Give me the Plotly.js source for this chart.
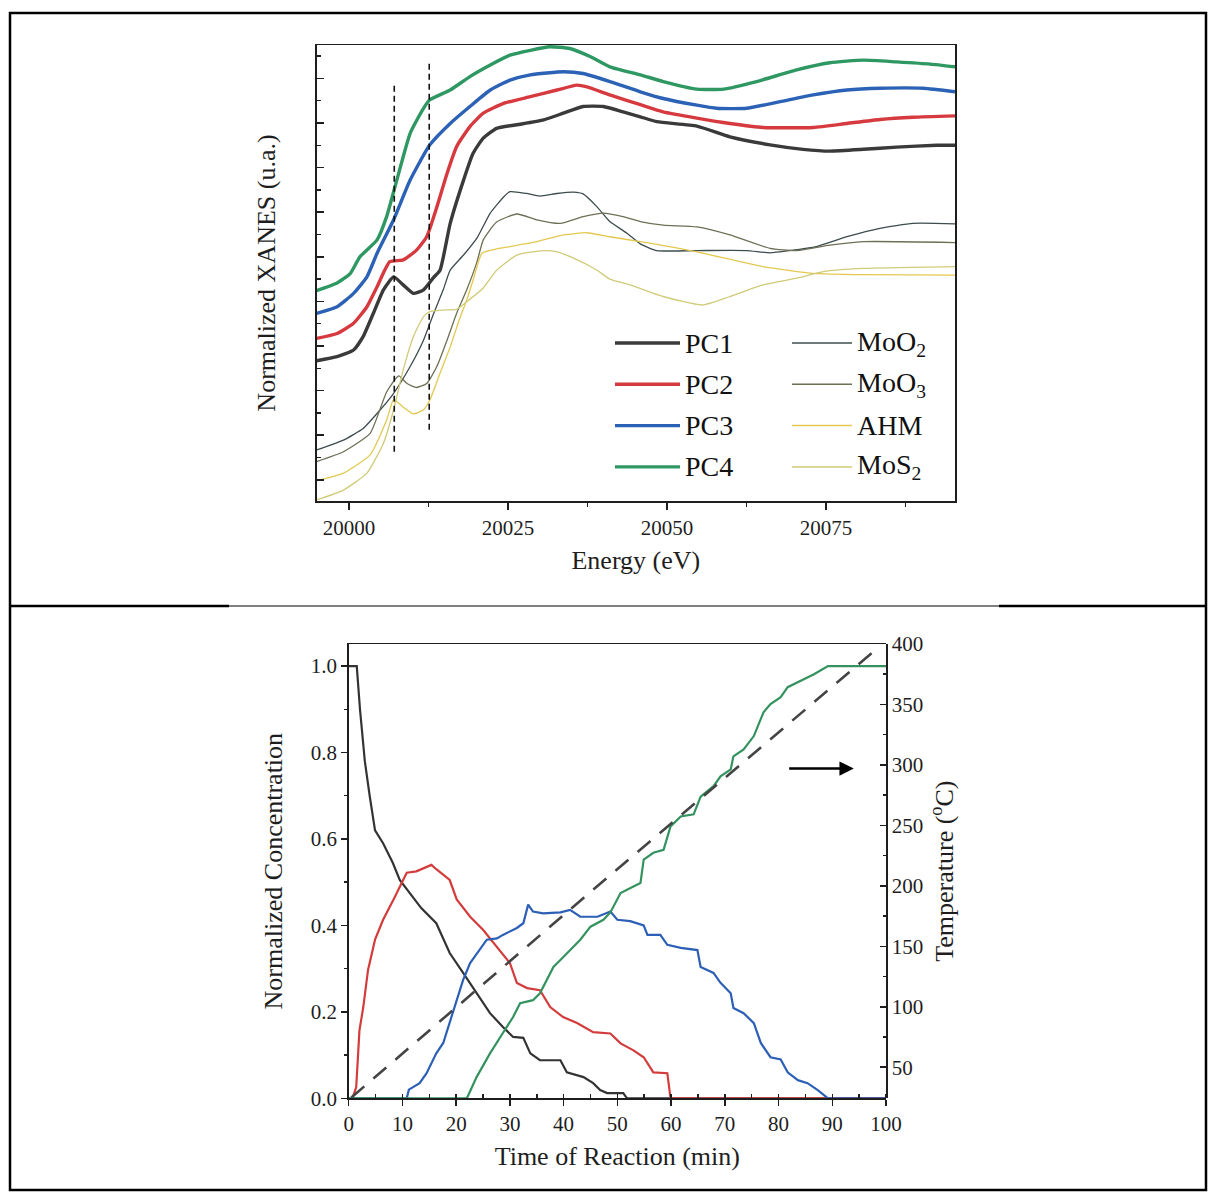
<!DOCTYPE html>
<html><head><meta charset="utf-8">
<script src="https://cdn.plot.ly/plotly-3.0.1.min.js"></script>
<style>html,body{margin:0;padding:0;background:#fff}#chart{width:1208px;height:1193px}</style>
</head><body><div id="chart"></div>
<script>
// ---------- Top panel: Mo K-edge XANES (offset, arbitrary units) ----------
const pc1E = [19994.9,19998.1,20000.7,20002.2,20003.8,20005.4,20007.0,20008.5,20010.1,20011.7,20013.3,20014.3,20015.9,20018.0,20019.5,20021.1,20023.2,20026.4,20030.6,20033.7,20036.8,20040.0,20043.1,20045.8,20048.4,20054.7,20059.9,20066.2,20071.4,20075.6,20080.9,20086.1,20092.4,20095.3];
const pc1Y = [2.67,2.76,2.91,3.21,3.73,4.26,4.55,4.37,4.18,4.26,4.54,4.70,5.75,6.72,7.32,7.66,7.88,7.96,8.07,8.22,8.37,8.37,8.25,8.14,8.03,7.93,7.69,7.51,7.41,7.37,7.41,7.46,7.50,7.50];
const pc2E = [19994.9,19998.1,20000.7,20002.8,20004.4,20006.4,20008.5,20010.6,20012.2,20013.8,20015.4,20016.9,20019.0,20021.1,20024.3,20028.5,20032.7,20035.8,20037.4,20041.0,20045.8,20049.4,20054.7,20059.9,20065.1,20073.0,20078.3,20083.5,20088.7,20095.3];
const pc2Y = [3.17,3.28,3.51,3.88,4.33,4.89,4.93,5.15,5.45,6.12,6.87,7.47,7.92,8.22,8.44,8.59,8.74,8.85,8.81,8.63,8.41,8.25,8.11,7.99,7.90,7.90,7.99,8.08,8.13,8.16];
const pc3E = [19994.9,19998.1,20000.7,20002.8,20004.4,20007.0,20009.6,20012.7,20015.9,20019.0,20022.2,20025.3,20028.5,20033.7,20036.8,20041.0,20045.8,20049.4,20054.7,20057.8,20062.5,20067.8,20073.0,20078.3,20083.5,20090.3,20095.3];
const pc3Y = [3.73,3.88,4.18,4.55,5.08,5.83,6.72,7.51,7.99,8.37,8.74,8.96,9.08,9.15,9.11,8.93,8.70,8.55,8.40,8.33,8.33,8.48,8.63,8.74,8.78,8.78,8.70];
const pc4E = [19994.9,19998.1,20000.2,20001.7,20004.4,20005.9,20007.5,20009.6,20011.7,20012.7,20015.9,20019.0,20022.2,20025.3,20028.5,20031.6,20034.7,20037.9,20041.0,20045.8,20049.4,20054.7,20058.9,20064.1,20070.4,20075.6,20080.9,20086.1,20091.4,20095.3];
const pc4Y = [4.24,4.41,4.63,5.00,5.38,5.90,6.72,7.77,8.33,8.52,8.74,9.04,9.30,9.52,9.63,9.71,9.67,9.49,9.26,9.08,8.93,8.76,8.76,8.93,9.19,9.35,9.41,9.37,9.32,9.26];
const moo2E = [19994.9,19999.1,20002.2,20004.9,20007.0,20009.6,20011.7,20013.3,20014.8,20015.9,20018.0,20020.1,20022.2,20024.3,20025.3,20027.9,20030.0,20032.7,20035.3,20036.8,20039.0,20041.0,20043.7,20045.8,20048.4,20054.7,20062.5,20066.2,20069.3,20073.5,20078.3,20083.5,20088.7,20095.3];
const moo2Y = [0.67,0.89,1.15,1.57,1.94,2.54,3.13,3.73,4.26,4.70,5.04,5.42,5.98,6.34,6.46,6.42,6.36,6.42,6.45,6.41,6.12,5.79,5.53,5.29,5.14,5.14,5.14,5.09,5.14,5.23,5.45,5.64,5.75,5.74];
const moo3E = [19994.9,19999.1,20003.3,20005.9,20007.8,20009.1,20010.6,20012.2,20013.8,20015.4,20016.9,20018.5,20020.1,20021.1,20023.2,20026.4,20029.5,20033.2,20036.8,20040.0,20043.1,20045.8,20049.4,20054.7,20059.9,20066.2,20070.4,20075.6,20080.9,20095.3];
const moo3Y = [0.41,0.63,1.04,1.97,2.33,2.16,2.07,2.16,2.54,3.13,3.73,4.26,4.88,5.38,5.78,5.96,5.83,5.75,5.90,5.98,5.90,5.79,5.71,5.67,5.49,5.19,5.14,5.26,5.34,5.32];
const ahmE = [19994.9,19999.1,20003.3,20005.9,20007.0,20008.5,20010.1,20011.7,20012.7,20014.3,20015.9,20017.5,20018.5,20019.5,20020.9,20023.0,20025.3,20029.5,20033.7,20037.4,20041.0,20045.8,20054.7,20065.1,20073.0,20080.9,20095.3];
const ahmY = [-0.02,0.15,0.56,1.34,1.80,1.63,1.48,1.57,1.79,2.39,2.98,3.66,4.03,4.48,5.08,5.17,5.23,5.34,5.49,5.54,5.45,5.34,5.11,4.78,4.63,4.60,4.59];
const mos2E = [19994.9,19999.1,20002.8,20005.4,20007.0,20008.5,20010.1,20011.7,20012.7,20015.4,20016.9,20018.5,20021.1,20023.2,20026.4,20030.6,20032.7,20035.3,20039.0,20041.0,20044.2,20049.4,20055.5,20059.9,20065.1,20070.4,20074.6,20080.9,20095.3];
const mos2Y = [-0.45,-0.23,0.15,0.82,1.57,2.46,3.21,3.66,3.77,3.81,3.82,3.99,4.30,4.70,5.04,5.14,5.11,4.97,4.70,4.50,4.37,4.11,3.92,4.11,4.37,4.52,4.67,4.74,4.78];
const guideE = [20007.1, 20012.6];
const guideYLow = [0.63, 1.12];
const guideYHigh = [8.89, 9.37];
const xanesTicks = [20000, 20025, 20050, 20075];

// ---------- Bottom panel: concentration profiles + temperature ----------
const c1T = [0,1.5,2.1,3.0,3.9,4.9,6.4,8.2,9.5,11.4,13.5,16.3,17.6,18.8,21.3,23.8,26.3,28.7,30.6,32.5,33.8,35.6,39.4,40.6,43.7,45.5,46.8,48.1,51.1,51.8,100];
const c1V = [1.0,1.0,0.9,0.78,0.70,0.62,0.59,0.545,0.505,0.475,0.44,0.405,0.367,0.336,0.29,0.243,0.197,0.165,0.142,0.14,0.104,0.088,0.088,0.06,0.049,0.035,0.019,0.012,0.012,0.0,0.0];
const c2T = [0,0.7,1.4,2.0,2.7,3.6,4.9,6.4,8.3,9.8,10.8,12.6,14.5,15.4,16.3,18.8,20.1,22.6,25.0,27.6,30.0,31.3,33.2,35.6,37.5,39.9,42.5,45.5,48.7,50.6,53.0,54.9,56.7,59.3,59.9,100];
const c2V = [0,0,0.026,0.157,0.21,0.297,0.367,0.413,0.459,0.498,0.522,0.525,0.534,0.54,0.53,0.505,0.46,0.42,0.39,0.35,0.313,0.267,0.255,0.25,0.211,0.188,0.174,0.153,0.15,0.127,0.111,0.095,0.06,0.058,0.0,0.0];
const c3T = [0,10.8,11.2,13.2,14.5,16.3,17.6,18.8,20.1,21.3,22.6,24.4,25.7,27.6,28.7,31.3,32.5,33.4,34.3,36.2,39.4,41.2,43.1,46.3,48.7,50.0,52.4,54.9,55.6,58.0,59.3,61.8,64.9,65.5,67.9,69.2,71.1,71.6,73.5,75.4,76.7,78.5,80.4,81.7,83.6,85.4,87.3,89.2,100];
const c3V = [0,0,0.02,0.035,0.058,0.104,0.128,0.174,0.227,0.274,0.313,0.343,0.367,0.37,0.378,0.394,0.405,0.448,0.432,0.428,0.43,0.436,0.42,0.42,0.432,0.413,0.41,0.40,0.378,0.378,0.355,0.348,0.343,0.304,0.29,0.267,0.243,0.209,0.197,0.174,0.128,0.095,0.09,0.06,0.042,0.035,0.019,0.0,0.0];
const c4T = [0,22.0,23.8,26.3,28.7,30.6,31.9,34.3,35.6,36.9,38.1,39.4,41.2,43.1,45.0,47.4,48.7,50.0,50.6,53.0,54.3,54.9,56.7,58.6,59.9,61.8,64.2,65.5,67.9,69.2,71.1,71.6,73.5,75.4,77.2,78.5,80.4,81.7,82.9,84.7,86.6,89.2,100];
const c4V = [0,0,0.049,0.104,0.151,0.188,0.22,0.227,0.243,0.274,0.304,0.32,0.343,0.367,0.397,0.413,0.43,0.46,0.475,0.49,0.498,0.552,0.568,0.575,0.629,0.652,0.657,0.698,0.722,0.745,0.761,0.791,0.807,0.838,0.893,0.912,0.928,0.951,0.958,0.97,0.981,1.0,1.0];
const tempT = [0.5, 43.7, 97.5];
const tempV = [25, 190, 393];
const arrowT = [81.7, 94];
const arrowTemp = 297;

// ---------- Legend ----------
const legendNames = ['PC1','PC2','PC3','PC4','MoO<sub>2</sub>','MoO<sub>3</sub>','AHM','MoS<sub>2</sub>'];
const legendColors = ['#3a3a3a','#d63a3f','#2b62b5','#2f9862','#3e4c4e','#6e6f55','#e4c850','#cfcb78'];

const W = 1208, H = 1193;
const fx = v => v / W;
const fy = v => 1 - v / H;
const FONT = 'Liberation Serif, Times New Roman, serif';
const INK = '#1e1e1e';

const traces = [];
const refSets = [[moo2E,moo2Y],[moo3E,moo3Y],[ahmE,ahmY],[mos2E,mos2Y]];
refSets.forEach((s,i)=>traces.push({x:s[0],y:s[1],mode:'lines',xaxis:'x',yaxis:'y',showlegend:false,
  line:{color:legendColors[4+i],width:1.3,shape:'spline',smoothing:0.5},hoverinfo:'skip'}));
const pcSets = [[pc1E,pc1Y],[pc2E,pc2Y],[pc3E,pc3Y],[pc4E,pc4Y]];
pcSets.forEach((s,i)=>traces.push({x:s[0],y:s[1],mode:'lines',xaxis:'x',yaxis:'y',showlegend:false,
  line:{color:legendColors[i],width:3.4,shape:'spline',smoothing:0.5},hoverinfo:'skip'}));
guideE.forEach((e,i)=>traces.push({x:[e,e],y:[guideYLow[i],guideYHigh[i]],mode:'lines',xaxis:'x',yaxis:'y',
  showlegend:false,line:{color:'#111',width:1.6,dash:'6px,4px'},hoverinfo:'skip'}));

const concSets = [[c1T,c1V],[c2T,c2V],[c3T,c3V],[c4T,c4V]];
const concColors = ['#333333','#d43c3c','#2c5fb5','#34925e'];
concSets.forEach((s,i)=>traces.push({x:s[0],y:s[1],mode:'lines',xaxis:'x2',yaxis:'y2',showlegend:false,
  line:{color:concColors[i],width:2.2},hoverinfo:'skip'}));
traces.push({x:tempT,y:tempV,mode:'lines',xaxis:'x2',yaxis:'y3',showlegend:false,
  line:{color:'#444',width:2.6,dash:'17px,12px'},hoverinfo:'skip'});

const axisCommon = {showgrid:false,zeroline:false,showline:true,linecolor:INK,linewidth:1.5,automargin:false,
  tickcolor:INK,tickwidth:1.5,tickfont:{family:FONT,size:21,color:INK}};
const titleFont = {family:FONT,size:26,color:INK};
const bottomDomainY = [fy(1098.3), fy(644)];

const shapes = [];
const annotations = [];
// table frame
shapes.push({type:'rect',xref:'paper',yref:'paper',x0:fx(10),x1:fx(1206),y0:fy(1190),y1:fy(13),line:{color:'#000',width:2.5}});
shapes.push({type:'line',xref:'paper',yref:'paper',x0:fx(10),x1:fx(229),y0:fy(606),y1:fy(606),line:{color:'#000',width:2.5}});
shapes.push({type:'line',xref:'paper',yref:'paper',x0:fx(229),x1:fx(999),y0:fy(606),y1:fy(606),line:{color:'#000',width:1}});
shapes.push({type:'line',xref:'paper',yref:'paper',x0:fx(999),x1:fx(1206),y0:fy(606),y1:fy(606),line:{color:'#000',width:2.5}});

// manual two-column legend
legendNames.forEach((nm,i)=>{
  const col = Math.floor(i/4), row = i%4;
  const lx0 = col===0 ? 615 : 792, lx1 = col===0 ? 680 : 852;
  const yy = 343 + row*41.3;
  shapes.push({type:'line',xref:'paper',yref:'paper',x0:fx(lx0),x1:fx(lx1),y0:fy(yy),y1:fy(yy),
    line:{color:legendColors[i],width:col===0?3.4:1.5}});
  annotations.push({xref:'paper',yref:'paper',x:fx(lx1+3),y:fy(yy),xanchor:'left',yanchor:'middle',
    text:nm,showarrow:false,font:{family:FONT,size:28,color:'#111'}});
});

// arrow pointing to the temperature axis
annotations.push({xref:'x2',yref:'y3',axref:'x2',ayref:'y3',x:arrowT[1],y:arrowTemp,ax:arrowT[0],ay:arrowTemp,
  text:'',showarrow:true,arrowhead:2,arrowsize:1.1,arrowwidth:2.6,arrowcolor:'#000'});

const layout = {
  width:W,height:H,autosize:false,margin:{l:0,r:0,t:0,b:0},
  paper_bgcolor:'#fff',plot_bgcolor:'rgba(0,0,0,0)',showlegend:false,
  xaxis:Object.assign({},axisCommon,{domain:[fx(316.7),fx(955)],range:[19994.9,20095.3],anchor:'y',mirror:true,
    ticks:'outside',ticklen:7,tickmode:'array',tickvals:xanesTicks,ticktext:xanesTicks.map(String),
    minor:{ticks:'outside',ticklen:4,dtick:12.5,tick0:20000,tickcolor:INK,tickwidth:1.5},
    title:{text:'Energy (eV)',font:titleFont,standoff:12}}),
  yaxis:Object.assign({},axisCommon,{domain:[fy(501),fy(45)],range:[-0.475,9.749],anchor:'x',mirror:true,
    showticklabels:false,ticks:'inside',ticklen:7,dtick:1,tick0:0,
    minor:{ticks:'inside',ticklen:4,dtick:0.5,tick0:0,tickcolor:INK,tickwidth:1.5},
    title:{text:'Normalized XANES (u.a.)',font:titleFont,standoff:32}}),
  xaxis2:Object.assign({},axisCommon,{domain:[fx(348.7),fx(886)],range:[0,100],anchor:'y2',mirror:true,
    ticks:'outside',ticklen:6,dtick:10,tick0:0,
    minor:{ticks:'inside',ticklen:4,dtick:5,tick0:0,tickcolor:INK,tickwidth:1.5},
    title:{text:'Time of Reaction (min)',font:titleFont,standoff:12}}),
  yaxis2:Object.assign({},axisCommon,{domain:bottomDomainY,range:[0,1.051],anchor:'x2',
    ticks:'outside',ticklen:6,dtick:0.2,tick0:0,tickformat:'.1f',
    minor:{ticks:'outside',ticklen:3,dtick:0.1,tick0:0,tickcolor:INK,tickwidth:1.5},
    title:{text:'Normalized Concentration',font:titleFont,standoff:20}}),
  yaxis3:Object.assign({},axisCommon,{domain:bottomDomainY,side:'right',anchor:'x2',range:[24.3,400],
    ticks:'inside',ticklen:6,dtick:50,tick0:0,
    minor:{ticks:'inside',ticklen:3,dtick:25,tick0:0,tickcolor:INK,tickwidth:1.5},
    title:{text:'Temperature (<sup>o</sup>C)',font:titleFont,standoff:12}}),
  shapes:shapes,annotations:annotations
};

Plotly.newPlot('chart',traces,layout,{staticPlot:true,displayModeBar:false});
</script></body></html>
